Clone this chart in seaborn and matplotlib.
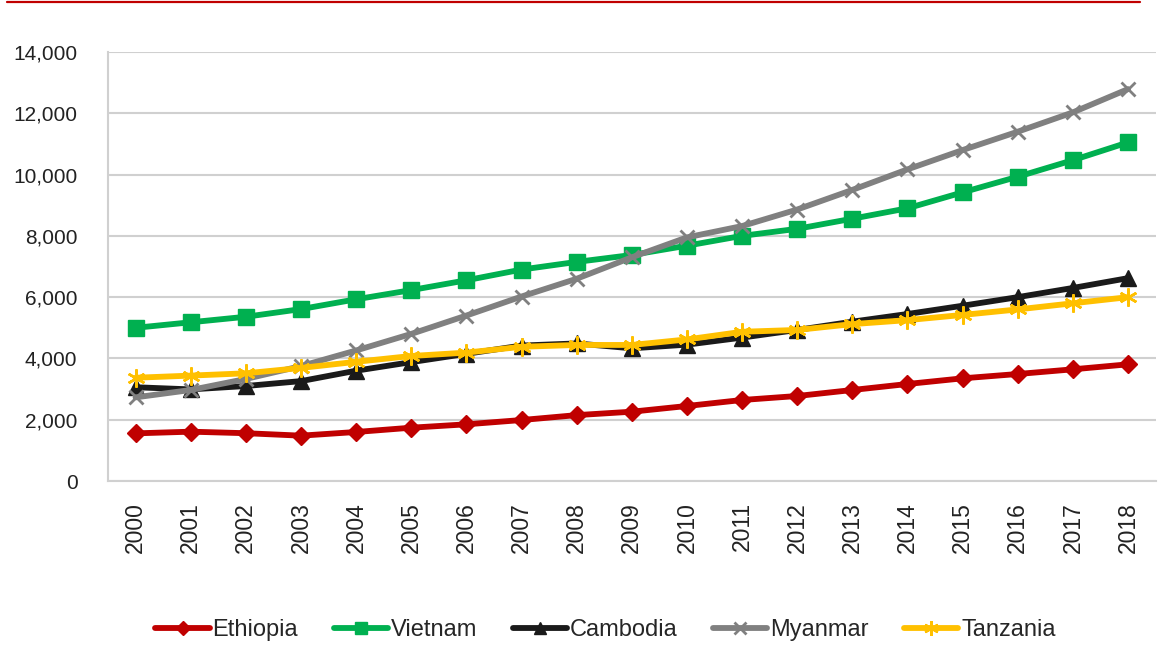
import matplotlib
matplotlib.use("Agg")
import matplotlib.pyplot as plt
import seaborn as sns
import pandas as pd
from matplotlib.lines import Line2D

years = list(range(2000, 2019))
ethiopia = [1555, 1610, 1560, 1480, 1600, 1740, 1850, 1990, 2150, 2262, 2448, 2644, 2774, 2970, 3166, 3351, 3492, 3645, 3808]
vietnam = [5000, 5180, 5360, 5610, 5930, 6230, 6550, 6900, 7150, 7376, 7680, 8000, 8230, 8560, 8900, 9420, 9930, 10470, 11050]
cambodia = [3060, 2990, 3100, 3260, 3600, 3880, 4150, 4420, 4490, 4330, 4450, 4680, 4930, 5200, 5450, 5720, 6000, 6300, 6620]
myanmar = [2730, 2970, 3330, 3750, 4260, 4800, 5400, 6020, 6600, 7300, 7950, 8320, 8860, 9500, 10170, 10800, 11400, 12030, 12790]
tanzania = [3370, 3440, 3515, 3690, 3890, 4080, 4190, 4380, 4440, 4440, 4620, 4870, 4930, 5120, 5250, 5420, 5600, 5800, 6000]

series = {
    "Ethiopia": ethiopia,
    "Vietnam": vietnam,
    "Cambodia": cambodia,
    "Myanmar": myanmar,
    "Tanzania": tanzania,
}
styles = {
    "Ethiopia": dict(color="#C00000", marker="D", ms=9.5, mew=1),
    "Vietnam": dict(color="#00B050", marker="s", ms=11, mew=1),
    "Cambodia": dict(color="#1A1A1A", marker="^", ms=11, mew=1),
    "Myanmar": dict(color="#808080", marker="x", ms=10, mew=2),
    "Tanzania": dict(color="#FFC000", marker=(6, 2, 0), ms=13, mew=1.8),
}

sns.set_theme(style="white")
plt.rcParams["font.family"] = ["Liberation Sans", "DejaVu Sans"]

fig = plt.figure(figsize=(11.6, 6.46), dpi=100)
ax = fig.add_axes([0.0931, 0.2554, 0.9031, 0.6641])

rows = []
for name, vals in series.items():
    for y, v in zip(years, vals):
        rows.append({"year": y, "value": v, "country": name})
df = pd.DataFrame(rows)

for name in series:
    st = styles[name]
    sub = df[df["country"] == name]
    sns.lineplot(data=sub, x="year", y="value", ax=ax, color=st["color"], lw=4.2,
                 marker=st["marker"], markersize=st["ms"], markeredgewidth=st["mew"],
                 markeredgecolor=st["color"], markerfacecolor=st["color"], label=name,
                 legend=False)

ax.set_xlim(1999.5, 2018.5)
ax.set_ylim(0, 14000)
ax.set_yticks(range(0, 14001, 2000))
ax.set_yticklabels([f"{v:,}" for v in range(0, 14001, 2000)])
ax.set_xticks(years)
ax.set_xticklabels([str(y) for y in years], rotation=90)
ax.set_xlabel("")
ax.set_ylabel("")
ax.grid(axis="y", color="#D0D0D0", lw=1.5)
ax.grid(axis="x", visible=False)
for s in ["top", "right"]:
    ax.spines[s].set_visible(False)
for s in ["left", "bottom"]:
    ax.spines[s].set_color("#D0D0D0")
    ax.spines[s].set_linewidth(1.5)
ax.tick_params(axis="y", length=0, pad=22, labelsize=15, labelcolor="#222222")
ax.tick_params(axis="x", length=0, pad=15, labelsize=16.5, labelcolor="#222222")

handles = []
for name in series:
    st = styles[name]
    handles.append(Line2D([0], [0], color=st["color"], lw=4.2, marker=st["marker"],
                          markersize=st["ms"] * 0.8, markeredgewidth=st["mew"],
                          markeredgecolor=st["color"], markerfacecolor=st["color"]))
fig.legend(handles, list(series.keys()), loc="center", bbox_to_anchor=(0.522, 0.024),
           ncol=5, frameon=False, fontsize=17, handlelength=2.3, handletextpad=0.12,
           columnspacing=1.5)

fig.add_artist(Line2D([0.006, 0.983], [0.9975, 0.9975], color="#C00000", lw=1.6,
                      transform=fig.transFigure))

fig.savefig("out.png", dpi=100)
